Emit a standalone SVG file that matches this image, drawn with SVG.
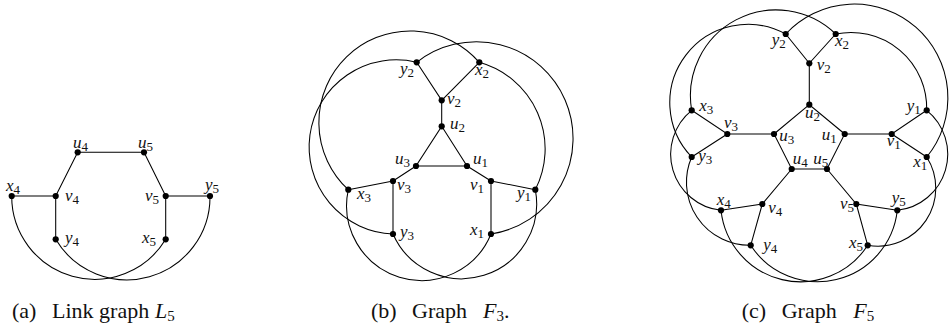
<svg xmlns="http://www.w3.org/2000/svg" width="950" height="328" viewBox="0 0 950 328">
<style>
.e path{stroke:#000;stroke-width:1.05;fill:none}
.n{fill:#000}
text{font-family:"Liberation Serif","DejaVu Serif",serif;fill:#111}
.l{font-size:17px;font-style:italic}
.s{font-size:13px;font-style:normal}
.c{font-size:22px}
.ci{font-size:22px;font-style:italic}
</style>
<rect width="950" height="328" fill="#fff"/>
<g id="connectors" class="e">
<path d="M77.7,152.3H144M77.7,152.3L55.7,196M144,152.3L165.7,196M11.7,196H55.7M55.7,196V239.3M165.7,196H210M165.7,196V239.3"/>
<path d="M11.7,196A83,83 0 0 0 165.7,239.3"/>
<path d="M55.7,239.3A83,83 0 0 0 210,196"/>
<path d="M416.7,62.3L441.7,100.3L479.3,62.3M441.7,100.3V126.3L416,166H467L441.7,126.3M416,166L393,181M467,166L491,181M393,181L348.3,189.7M393,181V234M491,181L535.3,189.7M491,181V234"/>
<path d="M348.3,189.7A75,75 0 0 0 491,234"/>
<path d="M393,234A75,75 0 0 0 535.3,189.7"/>
<path d="M479.3,62.3A91.5,91.5 0 1 0 348.3,189.7"/>
<path d="M416.7,62.3A87.1,87.1 0 1 0 393,234"/>
<path d="M416.7,62.3A96.7,96.7 0 1 1 491,234"/>
<path d="M479.3,62.3A89.8,89.8 0 0 1 535.3,189.7"/>
<path d="M785.7,34L809.3,63.3L835.7,34M809.3,63.3V104.7L844.7,134L827,169H791.7L774,134L809.3,104.7M774,134H727.3L691.7,110.3M727.3,134L691.7,157M844.7,134H891.7L926.7,110.3M891.7,134L926.7,157M791.7,169L762.3,204L721,210.3M762.3,204L750.7,245.3M827,169L856.3,204L897.3,210.3M856.3,204L867.7,245.3"/>
<path d="M835.7,34A85.7,85.7 0 0 0 691.7,110.3"/>
<path d="M785.7,34A78.3,78.3 0 0 0 691.7,157"/>
<path d="M785.7,34A93.6,93.6 0 0 1 926.7,157"/>
<path d="M835.7,34A75.8,75.8 0 0 1 926.7,110.3"/>
<path d="M691.7,110.3A56.4,56.4 0 0 0 721,210.3"/>
<path d="M926.7,110.3A56.4,56.4 0 0 1 897.3,210.3"/>
<path d="M691.7,157A63.1,63.1 0 0 0 750.7,245.3"/>
<path d="M926.7,157A58,58 0 0 1 867.7,245.3"/>
<path d="M721,210.3A80,80 0 0 0 867.7,245.3"/>
<path d="M750.7,245.3A80,80 0 0 0 897.3,210.3"/>
</g>
<g id="a-u4"><circle class="n" cx="77.7" cy="152.3" r="3.1"/><text class="l" x="73" y="148">u<tspan class="s" dy="3">4</tspan></text></g>
<g id="a-u5"><circle class="n" cx="144" cy="152.3" r="3.1"/><text class="l" x="138" y="148">u<tspan class="s" dy="3">5</tspan></text></g>
<g id="a-x4"><circle class="n" cx="11.7" cy="196" r="3.1"/><text class="l" x="6" y="191">x<tspan class="s" dy="3">4</tspan></text></g>
<g id="a-v4"><circle class="n" cx="55.7" cy="196" r="3.1"/><text class="l" x="65" y="201">v<tspan class="s" dy="3">4</tspan></text></g>
<g id="a-v5"><circle class="n" cx="165.7" cy="196" r="3.1"/><text class="l" x="145" y="201">v<tspan class="s" dy="3">5</tspan></text></g>
<g id="a-y5"><circle class="n" cx="210" cy="196" r="3.1"/><text class="l" x="205" y="190">y<tspan class="s" dy="3">5</tspan></text></g>
<g id="a-y4"><circle class="n" cx="55.7" cy="239.3" r="3.1"/><text class="l" x="65" y="243">y<tspan class="s" dy="3">4</tspan></text></g>
<g id="a-x5"><circle class="n" cx="165.7" cy="239.3" r="3.1"/><text class="l" x="142" y="243">x<tspan class="s" dy="3">5</tspan></text></g>
<g id="b-y2"><circle class="n" cx="416.7" cy="62.3" r="3.1"/><text class="l" x="400" y="74">y<tspan class="s" dy="3">2</tspan></text></g>
<g id="b-x2"><circle class="n" cx="479.3" cy="62.3" r="3.1"/><text class="l" x="475" y="75">x<tspan class="s" dy="3">2</tspan></text></g>
<g id="b-v2"><circle class="n" cx="441.7" cy="100.3" r="3.1"/><text class="l" x="447" y="104">v<tspan class="s" dy="3">2</tspan></text></g>
<g id="b-u2"><circle class="n" cx="441.7" cy="126.3" r="3.1"/><text class="l" x="450" y="129">u<tspan class="s" dy="3">2</tspan></text></g>
<g id="b-u3"><circle class="n" cx="416" cy="166" r="3.1"/><text class="l" x="395" y="164">u<tspan class="s" dy="3">3</tspan></text></g>
<g id="b-u1"><circle class="n" cx="467" cy="166" r="3.1"/><text class="l" x="473" y="164">u<tspan class="s" dy="3">1</tspan></text></g>
<g id="b-v3"><circle class="n" cx="393" cy="181" r="3.1"/><text class="l" x="397" y="190">v<tspan class="s" dy="3">3</tspan></text></g>
<g id="b-v1"><circle class="n" cx="491" cy="181" r="3.1"/><text class="l" x="470" y="190">v<tspan class="s" dy="3">1</tspan></text></g>
<g id="b-x3"><circle class="n" cx="348.3" cy="189.7" r="3.1"/><text class="l" x="357" y="199">x<tspan class="s" dy="3">3</tspan></text></g>
<g id="b-y1"><circle class="n" cx="535.3" cy="189.7" r="3.1"/><text class="l" x="517" y="198">y<tspan class="s" dy="3">1</tspan></text></g>
<g id="b-y3"><circle class="n" cx="393" cy="234" r="3.1"/><text class="l" x="400" y="237">y<tspan class="s" dy="3">3</tspan></text></g>
<g id="b-x1"><circle class="n" cx="491" cy="234" r="3.1"/><text class="l" x="470" y="235">x<tspan class="s" dy="3">1</tspan></text></g>
<g id="c-y2"><circle class="n" cx="785.7" cy="34" r="3.1"/><text class="l" x="771.7" y="45">y<tspan class="s" dy="3">2</tspan></text></g>
<g id="c-x2"><circle class="n" cx="835.7" cy="34" r="3.1"/><text class="l" x="835" y="46">x<tspan class="s" dy="3">2</tspan></text></g>
<g id="c-v2"><circle class="n" cx="809.3" cy="63.3" r="3.1"/><text class="l" x="816.7" y="70">v<tspan class="s" dy="3">2</tspan></text></g>
<g id="c-u2"><circle class="n" cx="809.3" cy="104.7" r="3.1"/><text class="l" x="805" y="118">u<tspan class="s" dy="3">2</tspan></text></g>
<g id="c-x3"><circle class="n" cx="691.7" cy="110.3" r="3.1"/><text class="l" x="699.3" y="111">x<tspan class="s" dy="3">3</tspan></text></g>
<g id="c-v3"><circle class="n" cx="727.3" cy="134" r="3.1"/><text class="l" x="724" y="128">v<tspan class="s" dy="3">3</tspan></text></g>
<g id="c-u3"><circle class="n" cx="774" cy="134" r="3.1"/><text class="l" x="779.3" y="141">u<tspan class="s" dy="3">3</tspan></text></g>
<g id="c-y3"><circle class="n" cx="691.7" cy="157" r="3.1"/><text class="l" x="698.3" y="161">y<tspan class="s" dy="3">3</tspan></text></g>
<g id="c-u1"><circle class="n" cx="844.7" cy="134" r="3.1"/><text class="l" x="821.7" y="140">u<tspan class="s" dy="3">1</tspan></text></g>
<g id="c-v1"><circle class="n" cx="891.7" cy="134" r="3.1"/><text class="l" x="886.7" y="146">v<tspan class="s" dy="3">1</tspan></text></g>
<g id="c-y1"><circle class="n" cx="926.7" cy="110.3" r="3.1"/><text class="l" x="906.7" y="111">y<tspan class="s" dy="3">1</tspan></text></g>
<g id="c-x1"><circle class="n" cx="926.7" cy="157" r="3.1"/><text class="l" x="913.3" y="167">x<tspan class="s" dy="3">1</tspan></text></g>
<g id="c-u4"><circle class="n" cx="791.7" cy="169" r="3.1"/><text class="l" x="792.7" y="164">u<tspan class="s" dy="3">4</tspan></text></g>
<g id="c-u5"><circle class="n" cx="827" cy="169" r="3.1"/><text class="l" x="813.3" y="164">u<tspan class="s" dy="3">5</tspan></text></g>
<g id="c-v4"><circle class="n" cx="762.3" cy="204" r="3.1"/><text class="l" x="768.3" y="213">v<tspan class="s" dy="3">4</tspan></text></g>
<g id="c-x4"><circle class="n" cx="721" cy="210.3" r="3.1"/><text class="l" x="716.7" y="205">x<tspan class="s" dy="3">4</tspan></text></g>
<g id="c-y4"><circle class="n" cx="750.7" cy="245.3" r="3.1"/><text class="l" x="763.3" y="250">y<tspan class="s" dy="3">4</tspan></text></g>
<g id="c-v5"><circle class="n" cx="856.3" cy="204" r="3.1"/><text class="l" x="840" y="209">v<tspan class="s" dy="3">5</tspan></text></g>
<g id="c-y5"><circle class="n" cx="897.3" cy="210.3" r="3.1"/><text class="l" x="891.7" y="203">y<tspan class="s" dy="3">5</tspan></text></g>
<g id="c-x5"><circle class="n" cx="867.7" cy="245.3" r="3.1"/><text class="l" x="849" y="248">x<tspan class="s" dy="3">5</tspan></text></g>
<g id="captions">
<text class="c" x="12" y="318">(a)</text><text class="c" x="52" y="318">Link graph</text><text class="ci" x="155" y="318">L<tspan font-style="normal" font-size="15" dy="3">5</tspan></text>
<text class="c" x="371" y="318">(b)</text><text class="c" x="412" y="318">Graph</text><text class="ci" x="483" y="318">F<tspan font-style="normal" font-size="15" dy="3">3</tspan><tspan font-style="normal" dy="-3">.</tspan></text>
<text class="c" x="741.7" y="318">(c)</text><text class="c" x="781.7" y="318">Graph</text><text class="ci" x="853.3" y="318">F<tspan font-style="normal" font-size="15" dy="3">5</tspan></text>
</g>
</svg>
